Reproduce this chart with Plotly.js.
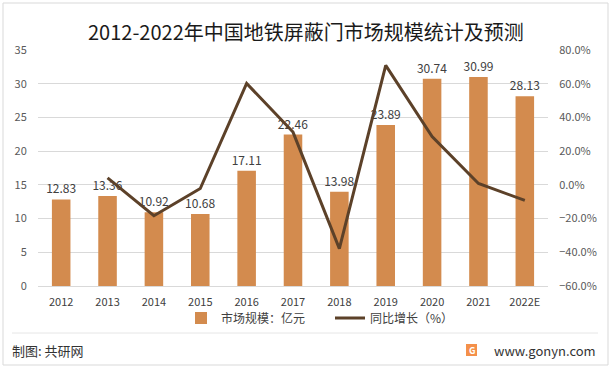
<!DOCTYPE html>
<html><head><meta charset="utf-8">
<script src="https://cdn.plot.ly/plotly-3.0.1.min.js"></script>
<style>html,body{margin:0;padding:0;background:#fff;}#c{width:612px;height:368px;}</style>
</head><body><div id="c"></div>
<script>
const years = ['2012','2013','2014','2015','2016','2017','2018','2019','2020','2021','2022E'];
const marketSize = [12.83,13.36,10.92,10.68,17.11,22.46,13.98,23.89,30.74,30.99,28.13];
const growthYears = ['2013','2014','2015','2016','2017','2018','2019','2020','2021','2022E'];
const growthPct = [4.1,-18.3,-2.2,60.2,31.3,-37.8,70.9,28.7,0.8,-9.2];

const FONT = '"Noto Sans CJK SC", "Microsoft YaHei", sans-serif';
const L=38, R=548, T=50, B=286;
const px = x => (x-L)/(R-L);
const py = y => (B-y)/(B-T);

const bars = {
  type:'bar', x: years, y: marketSize, name:'市场规模：亿元',
  marker:{color:'#D38B4E'}, text: marketSize.map(v=>v.toFixed(2)),
  textposition:'outside', cliponaxis:false, constraintext:'none',
  textfont:{family:FONT,size:12,color:'#404040'}, hoverinfo:'none'
};
const line = {
  type:'scatter', mode:'lines', x: growthYears, y: growthPct, yaxis:'y2',
  name:'同比增长（%）', line:{color:'#5C4129', width:3}, hoverinfo:'none'
};

const layout = {
  width:612, height:368,
  margin:{l:L, r:612-R, t:T, b:368-B},
  paper_bgcolor:'#fff', plot_bgcolor:'#fff',
  font:{family:FONT, color:'#595959', size:11},
  bargap:0.6, showlegend:true,
  legend:{orientation:'h', x:px(330), xanchor:'center', y:py(318), yanchor:'middle',
    bgcolor:'rgba(0,0,0,0)', font:{family:FONT,size:12,color:'#404040'}, traceorder:'normal',
    itemwidth:30, tracegroupgap:0, entrywidth:104},
  xaxis:{type:'category', showgrid:false, showline:true, linecolor:'#d9d9d9', linewidth:1,
    ticks:'outside', ticklen:6, tickcolor:'rgba(0,0,0,0)', tickfont:{size:11,color:'#404040'}},
  yaxis:{range:[0,35], dtick:5, showgrid:true, gridcolor:'#d9d9d9', zeroline:false,
    ticks:'outside', ticklen:8, tickcolor:'rgba(0,0,0,0)', tickfont:{size:11,color:'#595959'}},
  yaxis2:{range:[-60,80], dtick:20, overlaying:'y', side:'right', showgrid:false, zeroline:false,
    tickformat:'.1f', ticksuffix:'%', ticks:'outside', ticklen:8, tickcolor:'rgba(0,0,0,0)',
    tickfont:{size:11,color:'#595959'}},
  shapes:[
    {type:'rect', xref:'paper', yref:'paper', x0:px(3), x1:px(608), y0:py(365), y1:py(3),
      line:{color:'#d9d9d9', width:1}, layer:'below'},
    {type:'line', xref:'paper', yref:'paper', x0:px(12), x1:px(598), y0:py(333), y1:py(333),
      line:{color:'#e6e6e6', width:1}},
    {type:'rect', xref:'paper', yref:'paper', x0:px(466), x1:px(477), y0:py(356), y1:py(344),
      line:{width:0}, fillcolor:'#F4904A'}
  ],
  annotations:[
    {xref:'paper', yref:'paper', x:px(306), y:py(32), text:'2012-2022年中国地铁屏蔽门市场规模统计及预测',
      showarrow:false, xanchor:'center', yanchor:'middle', font:{family:FONT,size:20,color:'#1a1a1a'}},
    {xref:'paper', yref:'paper', x:px(10), y:py(350), text:'制图: 共研网', showarrow:false,
      xanchor:'left', yanchor:'middle', font:{family:FONT,size:13,color:'#333'}},
    {xref:'paper', yref:'paper', x:px(598), y:py(350), text:'www.gonyn.com', showarrow:false,
      xanchor:'right', yanchor:'middle', font:{family:FONT,size:13,color:'#333'}},
    {xref:'paper', yref:'paper', x:px(471.5), y:py(350), text:'<b>G</b>', showarrow:false,
      xanchor:'center', yanchor:'middle', font:{family:FONT,size:9,color:'#fff'}}
  ]
};
Plotly.newPlot('c', [bars, line], layout, {staticPlot:true, displayModeBar:false});
</script></body></html>
